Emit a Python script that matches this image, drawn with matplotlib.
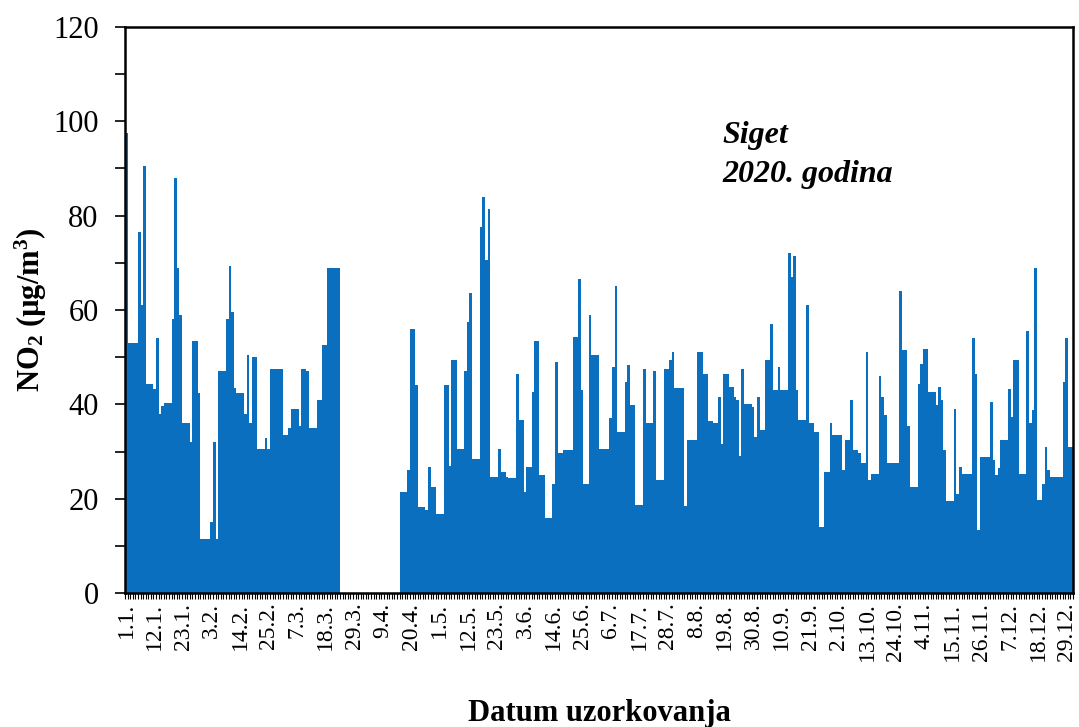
import numpy as np
import matplotlib
matplotlib.use("Agg")
import matplotlib.pyplot as plt
from matplotlib.ticker import MultipleLocator

plt.rcParams['font.family'] = ['Liberation Serif', 'DejaVu Serif']
plt.rcParams['mathtext.fontset'] = 'custom'
plt.rcParams['mathtext.rm'] = 'Liberation Serif:bold'
plt.rcParams['mathtext.it'] = 'Liberation Serif:bold:italic'
plt.rcParams['mathtext.bf'] = 'Liberation Serif:bold'

nan = np.nan

# Daily NO2 (µg/m3), Siget 2020 -- one list per month (nan = no data)
jan = [97.5, 53, 53, 53, 53, 76.5, 61, 90.5, 44.4, 44.4, 44.4, 43.3, 54, 38, 39.6, 40.3,
       40.3, 40.3, 58, 88, 69, 59, 36, 36, 36, 32, 53.5, 53.5, 42.5, 11.5, 11.5]
feb = [11.5, 11.5, 15, 32, 11.5, 47, 47, 47, 58, 69.3, 59.5, 43.5, 42.5, 42.5, 42.5, 38,
       50.5, 36, 50, 50, 30.5, 30.5, 30.5, 32.8, 30.6, 47.5, 47.5, 47.5, 47.5]
mar = [47.5, 33.5, 33.5, 35, 39, 39, 39, 35.5, 47.5, 47.5, 47, 35, 35, 35, 41, 41,
       52.5, 52.5, 69, 69, 69, 69, 69, nan, nan, nan, nan, nan, nan, nan, nan]
apr = [nan] * 15 + [21.5, 21.5, 21.5, 26, 56, 56, 44, 18.3, 18.3, 18.3, 17.7, 26.8,
                    22.5, 22.5, 16.8]
may = [16.8, 16.8, 44, 44, 27, 49.5, 49.5, 30.5, 30.5, 30.5, 47, 57.5, 63.5, 28.5, 28.5,
       28.5, 77.5, 84, 70.5, 81.5, 24.5, 24.5, 24.5, 30.5, 25.7, 25.7, 24.6, 24.3, 24.3,
       24.3, 46.5]
jun = [36.6, 36.6, 21.5, 26.8, 26.8, 42.6, 53.5, 53.5, 25, 25, 16, 16, 16, 23.2, 49,
       29.6, 29.6, 30.3, 30.3, 30.3, 30.3, 54.3, 54.3, 66.5, 43, 23.2, 23.2, 59, 50.5, 50.5]
jul = [50.5, 30.6, 30.6, 30.6, 30.6, 37, 48, 65, 34.2, 34.2, 34.2, 44.8, 48.3, 39.8, 39.8,
       18.6, 18.6, 18.6, 47.5, 36, 36, 36, 47, 24, 24, 24, 47.5, 47.5, 49.5, 51, 43.5]
aug = [43.5, 43.5, 43.5, 18.5, 32.4, 32.4, 32.4, 32.4, 51, 51, 46.5, 46.5, 36.5, 36.5,
       36, 36, 41.5, 31.5, 46.5, 46.5, 43.7, 43.7, 41.6, 41, 29, 47.5, 40, 40, 40, 39.5, 33]
sep = [41.6, 34.5, 34.5, 49.4, 49.4, 57, 43, 43, 48, 43, 43, 43, 72, 67, 71.5, 43, 36.6,
       36.6, 36.6, 61, 36, 36, 34.2, 34.2, 14, 14, 25.7, 25.7, 36, 33.5]
oct_ = [33.5, 33.5, 33.5, 26, 32.4, 32.4, 41, 30.3, 30.3, 29.6, 27.5, 27.5, 51, 24, 25.3,
        25.3, 25.3, 46, 41.6, 37.7, 27.5, 27.5, 27.5, 27.5, 27.5, 64, 51.5, 51.5, 35.5,
        22.5, 22.5]
nov = [22.5, 44.4, 48.6, 51.8, 51.8, 42.6, 42.6, 42.6, 39.8, 43.7, 40.9, 30.3, 19.5, 19.5,
       19.5, 39, 21, 26.8, 25.3, 25.3, 25.3, 25.3, 54, 46.5, 13.3, 28.9, 28.9, 28.9, 28.9,
       40.5]
dec = [28.2, 25, 26.5, 32.4, 32.4, 32.4, 43.3, 37.3, 49.4, 49.4, 25.3, 25.3, 25.3, 55.5,
       36, 38.8, 69, 19.7, 19.7, 23.2, 31, 26, 24.6, 24.6, 24.6, 24.6, 24.6, 44.8, 54, 31, 31]

tick_labels = ['1.1.', '12.1.', '23.1.', '3.2.', '14.2.', '25.2.', '7.3.', '18.3.',
               '29.3.', '9.4.', '20.4.', '1.5.', '12.5.', '23.5.', '3.6.', '14.6.',
               '25.6.', '6.7.', '17.7.', '28.7.', '8.8.', '19.8.', '30.8.', '10.9.',
               '21.9.', '2.10.', '13.10.', '24.10.', '4.11.', '15.11.', '26.11.',
               '7.12.', '18.12.', '29.12.']
label_step = 11

values = np.array(jan + feb + mar + apr + may + jun + jul + aug + sep + oct_ + nov + dec,
                  dtype=float)
days = np.arange(len(values))
valid = ~np.isnan(values)

W, H = 1079, 727
fig = plt.figure(figsize=(W / 100, H / 100), dpi=100)
ax = fig.add_axes([125 / W, 134 / H, 948 / W, 566 / H])

ax.bar(days[valid], values[valid], width=1.0, color='#0A6FBF', linewidth=0)

ax.set_xlim(-0.5, len(values) - 0.5)
ax.set_ylim(0, 120)

ax.yaxis.set_major_locator(MultipleLocator(20))
ax.yaxis.set_minor_locator(MultipleLocator(10))
ax.tick_params(axis='y', which='both', direction='out', length=7, width=1.2,
               labelsize=22, pad=12)

ax.set_xticks(np.arange(len(tick_labels)) * label_step)
ax.set_xticklabels(tick_labels, rotation=90, fontsize=17)
ax.set_xticks(np.arange(-0.5, len(values), 1.0), minor=True)
ax.tick_params(axis='x', which='minor', direction='out', length=4, width=0.8)
ax.tick_params(axis='x', which='major', direction='out', length=0, pad=7)

for s in ax.spines.values():
    s.set_linewidth(1.8)
    s.set_color('black')

ax.set_ylabel(r'NO$_2$ (µg/m$^3$)', fontsize=22, fontweight='bold')
ax.yaxis.set_label_coords(-0.08, 0.5)
ax.set_xlabel('Datum uzorkovanja', fontsize=22, fontweight='bold')
ax.xaxis.set_label_coords(0.5, -0.188)

ax.text(0.63, 100.0, 'Siget\n2020. godina', transform=ax.get_yaxis_transform(),
        fontsize=23, fontweight='bold', style='italic', va='top', ha='left',
        linespacing=1.45)

fig.savefig('out.png', dpi=100)
